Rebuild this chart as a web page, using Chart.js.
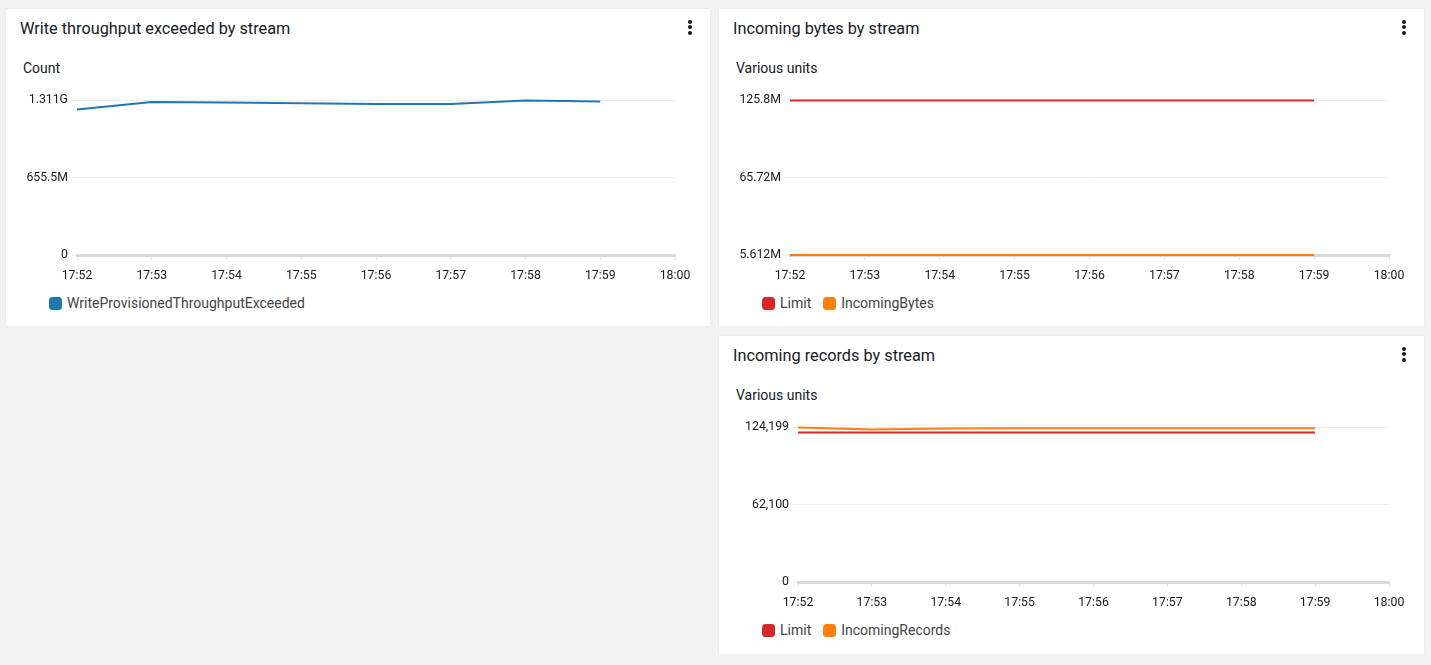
<!DOCTYPE html>
<html>
<head>
<meta charset="utf-8">
<script src="https://cdn.jsdelivr.net/npm/chart.js@4.4.0/dist/chart.umd.min.js"></script>
<style>
  body { margin: 0; background: #f2f2f2; font-family: Roboto, "Open Sans", sans-serif; color: #16191f; }
  .panel { position: absolute; background: #fff; box-shadow: 0 0 1px rgba(0,0,0,0.12); }
  .title { position: absolute; left: 14px; top: 10px; font-size: 16.3px; color: #16191f; }
  .unit { position: absolute; left: 17px; top: 51px; font-size: 14px; color: #16191f; }
  .kebab { position: absolute; right: 18px; top: 11px; width: 4px; }
  .kebab span { display: block; width: 4px; height: 4px; border-radius: 2px; background: #16191f; margin-bottom: 1.3px; }
  .chartbox { position: absolute; left: 0; top: 80px; height: 200px; }
  .legend { position: absolute; left: 43px; top: 286px; display: flex; font-size: 14px; color: #444; }
  .legend div { display: flex; align-items: center; margin-right: 12px; }
  .legend i { display: inline-block; width: 13px; height: 13px; border-radius: 3.5px; margin-right: 5px; }
</style>
</head>
<body>

<div class="panel" style="left:6px; top:9px; width:704px; height:317px;">
  <div class="title">Write throughput exceeded by stream</div>
  <div class="kebab"><span></span><span></span><span></span></div>
  <div class="unit">Count</div>
  <div class="chartbox" style="width:704px;"><canvas id="chart1"></canvas></div>
  <div class="legend"><div><i style="background:#1f77b4"></i>WriteProvisionedThroughputExceeded</div></div>
</div>

<div class="panel" style="left:719px; top:9px; width:705px; height:317px;">
  <div class="title">Incoming bytes by stream</div>
  <div class="kebab"><span></span><span></span><span></span></div>
  <div class="unit">Various units</div>
  <div class="chartbox" style="width:705px;"><canvas id="chart2"></canvas></div>
  <div class="legend"><div><i style="background:#d62728"></i>Limit</div><div><i style="background:#ff7f0e"></i>IncomingBytes</div></div>
</div>

<div class="panel" style="left:719px; top:336px; width:705px; height:318px;">
  <div class="title">Incoming records by stream</div>
  <div class="kebab"><span></span><span></span><span></span></div>
  <div class="unit">Various units</div>
  <div class="chartbox" style="width:705px;"><canvas id="chart3"></canvas></div>
  <div class="legend"><div><i style="background:#d62728"></i>Limit</div><div><i style="background:#ff7f0e"></i>IncomingRecords</div></div>
</div>

<script>
//Time labels on the x axis
const times = ['17:52', '17:53', '17:54', '17:55', '17:56', '17:57', '17:58', '17:59', '18:00'];

//Write throughput exceeded
const writeExceeded = [1.234e9, 1.298e9, 1.292e9, 1.286e9, 1.281e9, 1.281e9, 1.311e9, 1.302e9];
const yTicks1 = [0, 655.5e6, 1.311e9];
const yTickLabels1 = ['0', '655.5M', '1.311G'];

//Incoming bytes
const bytesLimit = [125.83e6, 125.83e6, 125.83e6, 125.83e6, 125.83e6, 125.83e6, 125.83e6, 125.83e6];
const incomingBytes = [5.612e6, 5.62e6, 5.63e6, 5.62e6, 5.62e6, 5.63e6, 5.62e6, 5.62e6];
const yTicks2 = [5.612e6, 65.72e6, 125.83e6];
const yTickLabels2 = ['5.612M', '65.72M', '125.8M'];

//Incoming records
const recordsLimit = [120000, 120000, 120000, 120000, 120000, 120000, 120000, 120000];
const incomingRecords = [124199, 122400, 123300, 123400, 123400, 123400, 123400, 123400];
const yTicks3 = [0, 62100, 124199];
const yTickLabels3 = ['0', '62,100', '124,199'];

function line(label, data, color) {
    return {
        label: label,
        data: data,
        borderColor: color,
        backgroundColor: color,
        borderWidth: 2,
        pointRadius: 0,
        tension: 0,
        fill: false,
        clip: false
    };
}

function makeChart(id, datasets, yTicks, yTickLabels, yWidth) {
    const ctx = document.getElementById(id).getContext('2d');
    return new Chart(ctx, {
        type: 'line',
        data: { labels: times, datasets: datasets },
        options: {
            responsive: true,
            maintainAspectRatio: false,
            animation: false,
            layout: { padding: { top: 8, bottom: 3, right: 35, left: 0 } },
            scales: {
                x: {
                    offset: false,
                    grid: { drawOnChartArea: false, tickLength: 5, color: '#e4e7e8' },
                    border: { color: '#d5dbdb', width: 3 },
                    ticks: { padding: 9, maxRotation: 0, autoSkip: false, color: '#16191f', font: { size: 12.3 } },
                    afterFit: (scale) => { scale.height = 31; }
                },
                y: {
                    min: yTicks[0],
                    max: yTicks[yTicks.length - 1],
                    grid: { color: '#eceeef', tickLength: 5 },
                    border: { display: false },
                    ticks: {
                        padding: 4,
                        color: '#16191f',
                        font: { size: 12.3 },
                        callback: (value, index) => yTickLabels[index]
                    },
                    afterBuildTicks: (scale) => { scale.ticks = yTicks.map(v => ({ value: v })); },
                    afterFit: (scale) => { scale.width = yWidth; }
                }
            },
            plugins: {
                legend: { display: false },
                tooltip: { mode: 'index', intersect: false }
            }
        }
    });
}

Chart.defaults.font.family = "Roboto, 'Open Sans', sans-serif";

makeChart('chart1', [line('WriteProvisionedThroughputExceeded', writeExceeded, '#1f77b4')], yTicks1, yTickLabels1, 71);
makeChart('chart2', [line('Limit', bytesLimit, '#d62728'), line('IncomingBytes', incomingBytes, '#ff7f0e')], yTicks2, yTickLabels2, 71);
makeChart('chart3', [line('Limit', recordsLimit, '#d62728'), line('IncomingRecords', incomingRecords, '#ff7f0e')], yTicks3, yTickLabels3, 79);
</script>
</body>
</html>
